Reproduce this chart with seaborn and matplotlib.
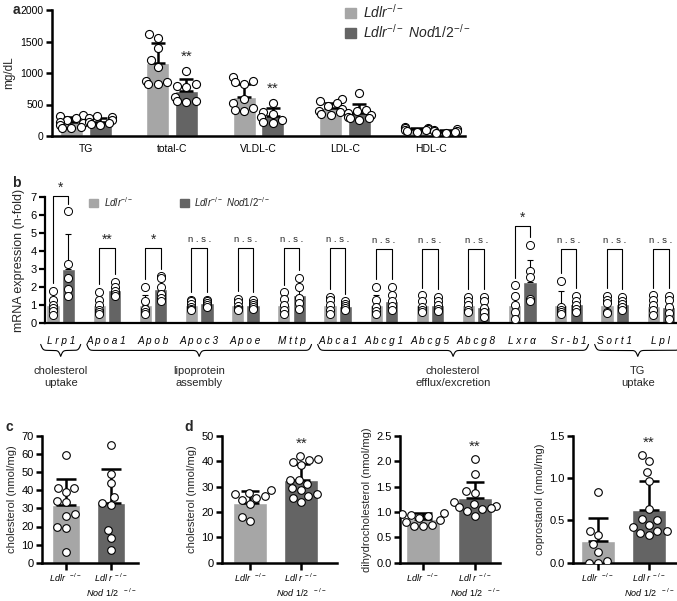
import warnings
from functools import partial

import numpy as np
import pandas as pd
import seaborn as sns
import matplotlib.pyplot as plt
import matplotlib.transforms as mtransforms
from matplotlib.patches import Patch

warnings.filterwarnings("ignore")

LIGHT = "#a6a6a6"
DARK = "#646464"

# ---------------- panel a: plasma lipids (mg/dL)
lipids = ["TG", "total-C", "VLDL-C", "LDL-C", "HDL-C"]
lipid_mean_ko = [225, 1160, 617, 442, 107]
lipid_sd_ko = [75, 320, 212, 80, 25]
lipid_mean_dko = [230, 720, 319, 362, 69]
lipid_sd_dko = [55, 190, 127, 148, 20]
lipid_pts_ko = [
    [330, 310, 280, 250, 220, 200, 170, 150, 130, 120],
    [1620, 1560, 1400, 1200, 1100, 870, 830, 820, 850],
    [930, 880, 850, 820, 580, 520, 440, 400, 420],
    [580, 550, 520, 470, 430, 400, 380, 350, 330],
    [150, 130, 120, 110, 100, 90, 80, 70],
]
lipid_pts_dko = [
    [310, 300, 280, 260, 230, 210, 190, 170],
    [1030, 830, 800, 780, 620, 560, 540, 560],
    [520, 380, 350, 300, 250, 200, 230],
    [690, 420, 390, 360, 330, 300, 280, 250, 280],
    [110, 95, 85, 75, 65, 55, 50],
]
lipid_sig = ["", "**", "**", "", ""]

# ---------------- panel b: hepatic mRNA (n-fold)
genes = ["Lrp1", "Apoa1", "Apob", "Apoc3", "Apoe", "Mttp", "Abca1",
         "Abcg1", "Abcg5", "Abcg8", "Lxrα", "Sr-b1", "Sort1", "Lpl"]
mrna_mean_ko = [1.0, 1.0, 1.0, 1.0, 1.0, 1.0, 1.0, 0.99, 1.0, 1.0, 1.0, 1.0, 1.0, 0.97]
mrna_sd_ko = [0.45, 0.55, 0.55, 0.25, 0.2, 0.45, 0.35, 0.55, 0.35, 0.3, 0.68, 0.78, 0.4, 0.5]
mrna_mean_dko = [3.02, 1.82, 1.87, 1.1, 1.0, 1.55, 0.94, 1.21, 1.0, 0.9, 2.29, 1.06, 1.06, 0.9]
mrna_sd_dko = [1.9, 0.25, 0.66, 0.2, 0.15, 0.64, 0.15, 0.45, 0.25, 0.4, 1.23, 0.4, 0.3, 0.45]
mrna_pts_ko = [
    [1.8, 1.3, 1.0, 0.85, 0.65, 0.45],
    [1.75, 1.3, 1.0, 0.75, 0.6, 0.5],
    [2.0, 1.2, 0.8, 0.6, 0.5],
    [1.3, 1.2, 1.05, 0.9, 0.8, 0.7],
    [1.35, 1.15, 0.95, 0.8, 0.7],
    [1.7, 1.35, 1.0, 0.7, 0.5],
    [1.45, 1.3, 1.0, 0.75, 0.5],
    [2.0, 1.3, 0.9, 0.65, 0.5],
    [1.55, 1.2, 0.9, 0.7, 0.6],
    [1.45, 1.25, 1.0, 0.75, 0.6],
    [2.1, 1.5, 1.0, 0.6, 0.2],
    [2.35, 0.9, 0.7, 0.6, 0.5],
    [1.5, 1.3, 1.1, 0.6, 0.55],
    [1.55, 1.3, 1.0, 0.7, 0.45],
]
mrna_pts_dko = [
    [6.2, 3.3, 2.5, 1.9, 1.5],
    [2.3, 2.0, 1.8, 1.6, 1.5],
    [2.6, 2.5, 2.0, 1.6, 1.4, 1.2],
    [1.3, 1.2, 1.1, 1.0, 0.9],
    [1.3, 1.1, 1.0, 0.9, 0.8],
    [2.5, 2.0, 1.4, 1.1, 0.8],
    [1.2, 1.05, 0.95, 0.85, 0.75],
    [2.0, 1.55, 1.2, 0.95, 0.75],
    [1.45, 1.2, 1.0, 0.8, 0.65],
    [1.45, 1.2, 0.85, 0.6, 0.35],
    [4.35, 2.9, 2.55, 1.35, 1.2],
    [1.5, 1.2, 1.0, 0.8, 0.6],
    [1.45, 1.25, 1.05, 0.9, 0.75],
    [1.5, 1.3, 0.9, 0.55, 0.25],
]
mrna_sig = ["*", "**", "*", "n.s.", "n.s.", "n.s.", "n.s.",
            "n.s.", "n.s.", "n.s.", "*", "n.s.", "n.s.", "n.s."]
bracket_top = [7.07, 4.18, 4.18, 4.18, 4.18, 4.18, 4.15,
               4.12, 4.12, 4.12, 5.41, 4.12, 4.12, 4.12]
gene_groups = ["cholesterol\nuptake", "lipoprotein\nassembly",
               "cholesterol\nefflux/excretion", "TG\nuptake"]
gene_group_sizes = [1, 5, 6, 2]

# ---------------- panel c: liver cholesterol (nmol/mg)
liver_chol_ko = [59.5, 41.5, 41, 39, 34, 33.5, 27, 26, 19.5, 19, 6]
liver_chol_dko = [65, 49, 44, 36.5, 33, 32, 18, 13.5, 7]
liver_mean = [31.7, 33.0]
liver_sd = [14.3, 18.5]

# ---------------- panel d: fecal sterols (nmol/mg)
fecal_chol_ko = [28.5, 27.5, 27, 26.2, 25.5, 24.7, 23, 18, 16.5]
fecal_chol_dko = [42, 41, 40.5, 39.8, 38.5, 32.8, 32.5, 31.2, 29.5, 28.6, 27.3, 26.3, 25.6, 24.0]
fecal_chol_mean = [23.4, 32.7]
fecal_chol_sd = [4.8, 6.3]

dihydro_ko = [0.98, 0.97, 0.95, 0.92, 0.88, 0.84, 0.8, 0.75, 0.72, 0.72]
dihydro_dko = [2.04, 1.76, 1.42, 1.38, 1.2, 1.15, 1.12, 1.1, 1.08, 1.05, 1.02, 0.93]
dihydro_mean = [0.856, 1.27]
dihydro_sd = [0.13, 0.33]

copro_ko = [0.84, 0.37, 0.33, 0.22, 0.13, 0.02, 0.0, 0.0]
copro_dko = [1.27, 1.2, 1.07, 0.97, 0.63, 0.52, 0.5, 0.45, 0.42, 0.38, 0.37, 0.35, 0.33]
copro_mean = [0.256, 0.62]
copro_sd = [0.27, 0.35]

geno_ko = r"$\mathit{Ldlr}^{\ \ -/-}$"
geno_dko = r"$\mathit{Ldl\ r}^{\ -/-}$" + "\n" + r"$\mathit{Nod\ 1/2}^{\ \ \ -/-}$"

sns.set_style("ticks")
plt.rcParams["font.family"] = ["Liberation Sans", "DejaVu Sans"]
plt.rcParams["mathtext.fontset"] = "custom"
plt.rcParams["mathtext.rm"] = "Liberation Sans"
plt.rcParams["mathtext.it"] = "Liberation Sans:italic"
plt.rcParams["axes.edgecolor"] = "black"
plt.rcParams["xtick.color"] = "black"
plt.rcParams["ytick.color"] = "black"

W, H = 677, 601
fig = plt.figure(figsize=(W / 100, H / 100), dpi=100)


def add_axes(left, right, top, bottom):
    return fig.add_axes([left / W, 1 - bottom / H, (right - left) / W, (bottom - top) / H])


def style(ax, lw, fs, xtick_len=0):
    sns.despine(ax=ax)
    ax.spines["left"].set_linewidth(lw)
    ax.spines["bottom"].set_linewidth(lw)
    ax.tick_params(axis="y", width=lw, length=4, labelsize=fs, pad=2)
    ax.tick_params(axis="x", width=lw, length=xtick_len)
    ax.set_xlabel("")


def grouped_panel(ax, cats, mean_ko, sd_ko, mean_dko, sd_dko, pts_ko, pts_dko,
                  bar_w, cap, elw, pt_size, pt_lw, swarm):
    slots = []
    for c in cats:
        slots += [c + "|ko", c + "|dko", c + "|gap"]
    slots = slots[:-1]
    bars = pd.DataFrame({
        "slot": [c + "|ko" for c in cats] + [c + "|dko" for c in cats],
        "group": ["ko"] * len(cats) + ["dko"] * len(cats),
        "mean": list(mean_ko) + list(mean_dko),
        "sd": list(sd_ko) + list(sd_dko),
    })
    pts = pd.DataFrame(
        [(c + "|ko", v) for c, vs in zip(cats, pts_ko) for v in vs]
        + [(c + "|dko", v) for c, vs in zip(cats, pts_dko) for v in vs],
        columns=["slot", "value"])
    sns.barplot(data=bars, x="slot", y="mean", hue="group", order=slots,
                hue_order=["ko", "dko"], palette=[LIGHT, DARK], saturation=1,
                dodge=False, width=bar_w, errorbar=None, legend=False, ax=ax, zorder=1)
    pos = [slots.index(s) for s in bars["slot"]]
    ax.errorbar(pos, bars["mean"], yerr=[np.zeros(len(bars)), bars["sd"]], fmt="none",
                ecolor="black", elinewidth=elw, capsize=cap, capthick=elw, zorder=3)
    plotter = sns.swarmplot if swarm else partial(sns.stripplot, jitter=False)
    plotter(data=pts, x="slot", y="value", order=slots, color="white",
            edgecolor="black", linewidth=pt_lw, size=pt_size, ax=ax, zorder=4)
    ax.set_xticks([slots.index(c + "|ko") + 0.5 for c in cats])
    return slots


# ================= panel a
ax_a = add_axes(52, 465, 10, 136)
slots_a = grouped_panel(ax_a, lipids, lipid_mean_ko, lipid_sd_ko, lipid_mean_dko,
                        lipid_sd_dko, lipid_pts_ko, lipid_pts_dko,
                        bar_w=0.8, cap=5, elw=1.8, pt_size=5.8, pt_lw=0.8, swarm=True)
ax_a.set_xticklabels(lipids, fontsize=7.5)
ax_a.set_xlim(-0.67, len(slots_a) - 0.33)
ax_a.set_ylim(0, 2000)
ax_a.set_yticks([0, 500, 1000, 1500, 2000])
ax_a.set_ylabel("mg/dL", fontsize=8.5, labelpad=4)
style(ax_a, 1.8, 7.5)
ax_a.tick_params(axis="x", pad=6)
for i, lip in enumerate(lipids):
    if lipid_sig[i]:
        ax_a.text(slots_a.index(lip + "|dko"), max(lipid_pts_dko[i]) + 230, lipid_sig[i],
                  ha="center", va="center", fontsize=11)
fig.legend(handles=[Patch(color=LIGHT, label=r"$\mathit{Ldlr}^{-/-}$"),
                    Patch(color=DARK, label=r"$\mathit{Ldlr}^{-/-}\ \mathit{Nod1/2}^{-/-}$")],
           loc="upper left", bbox_to_anchor=(345 / W, 1 - 3 / H), frameon=False,
           fontsize=10, handlelength=0.8, handleheight=0.8, handletextpad=0.5,
           labelspacing=0.15, borderpad=0, borderaxespad=0)

# ================= panel b
ax_b = add_axes(45, 677, 197, 323)
slots_b = grouped_panel(ax_b, genes, mrna_mean_ko, mrna_sd_ko, mrna_mean_dko, mrna_sd_dko,
                        mrna_pts_ko, mrna_pts_dko,
                        bar_w=0.86, cap=2.2, elw=0.8, pt_size=5.8, pt_lw=0.7, swarm=False)
ax_b.set_xticklabels([" ".join(g) for g in genes], fontsize=7.2, fontstyle="italic")
ax_b.set_xlim(-0.52, len(slots_b) - 0.45)
ax_b.set_ylim(0, 7)
ax_b.set_yticks(range(8))
ax_b.set_ylabel("mRNA expression (n-fold)", fontsize=9, labelpad=4)
style(ax_b, 1.6, 8)
ax_b.tick_params(axis="x", pad=9)
for i, g in enumerate(genes):
    x0 = slots_b.index(g + "|ko")
    x1 = x0 + 1
    top = bracket_top[i]
    ax_b.plot([x0, x0, x1, x1],
              [max(mrna_pts_ko[i]) + 0.42, top, top, max(mrna_pts_dko[i]) + 0.42],
              color="black", lw=0.8, clip_on=False, zorder=5)
    txt = mrna_sig[i]
    if txt == "n.s.":
        ax_b.text((x0 + x1) / 2, top + 0.22, "n . s .", ha="center", va="bottom", fontsize=6.8)
    else:
        ax_b.text((x0 + x1) / 2, top + 0.05, txt, ha="center", va="bottom", fontsize=10)

# curly braces + group labels below the gene names
trans_b = mtransforms.blended_transform_factory(ax_b.transData, ax_b.transAxes)
start = 0
for name, n in zip(gene_groups, gene_group_sizes):
    xa = slots_b.index(genes[start] + "|ko") + 0.5
    xb = slots_b.index(genes[start + n - 1] + "|ko") + 0.5
    x0, x1 = xa - 1.3, xb + 1.3
    half = np.linspace(0, (x1 - x0) / 2, 120)
    beta = 14.0
    yh = 1 / (1 + np.exp(-beta * half)) + 1 / (1 + np.exp(-beta * (half - half[-1])))
    xs = np.concatenate([x0 + half, x1 - half[::-1]])
    ys = np.concatenate([yh, yh[::-1]])
    ys = -0.17 - (ys - 0.5) * 0.095
    ax_b.plot(xs, ys, color="black", lw=0.8, transform=trans_b, clip_on=False)
    ax_b.text((xa + xb) / 2, -0.34, name, ha="center", va="top", fontsize=8,
              linespacing=1.25, transform=trans_b)
    start += n

fig.legend(handles=[Patch(color=LIGHT, label=r"$\mathit{Ldlr}^{-/-}$"),
                    Patch(color=DARK, label=r"$\mathit{Ldlr}^{-/-}\ \mathit{Nod1/2}^{-/-}$")],
           loc="upper left", bbox_to_anchor=(89 / W, 1 - 195 / H), ncol=2, frameon=False,
           fontsize=7, handlelength=0.9, handleheight=0.9, handletextpad=0.6,
           columnspacing=4.8, borderpad=0, borderaxespad=0)


# ================= panels c and d
def two_bar_panel(ax, ko, dko, mean, sd, ylim, yticks, ylabel, sig, xlim, bar_w, cap):
    bars = pd.DataFrame({"group": ["ko", "dko"], "mean": mean, "sd": sd})
    pts = pd.DataFrame({"group": ["ko"] * len(ko) + ["dko"] * len(dko),
                        "value": list(ko) + list(dko)})
    sns.barplot(data=bars, x="group", y="mean", hue="group", order=["ko", "dko"],
                palette=[LIGHT, DARK], saturation=1, width=bar_w, errorbar=None,
                legend=False, ax=ax, zorder=1)
    ax.errorbar([0, 1], mean, yerr=[[0, 0], sd], fmt="none", ecolor="black",
                elinewidth=1.8, capsize=cap, capthick=1.8, zorder=3)
    sns.swarmplot(data=pts, x="group", y="value", order=["ko", "dko"], color="white",
                  edgecolor="black", linewidth=0.8, size=5.5, ax=ax, zorder=4)
    ax.set_ylim(*ylim)
    ax.set_yticks(yticks)
    ax.set_xlim(*xlim)
    ax.set_ylabel(ylabel, fontsize=8, labelpad=3)
    ax.set_xticks([0, 1])
    ax.set_xticklabels([geno_ko, geno_dko], fontsize=6.5, linespacing=1.25, va="top")
    style(ax, 1.8, 8, xtick_len=5)
    ax.tick_params(axis="x", pad=1.5)
    if sig:
        ax.text(1, max(dko) + (ylim[1] - ylim[0]) * 0.1, sig, ha="center", va="center",
                fontsize=11)


ax_c = add_axes(42, 138, 436, 562.7)
two_bar_panel(ax_c, liver_chol_ko, liver_chol_dko, liver_mean, liver_sd, (0, 70),
              range(0, 71, 10), "cholesterol (nmol/mg)", "", (-0.53, 1.6), 0.62, 7.5)

ax_d1 = add_axes(222, 337, 436, 562.7)
two_bar_panel(ax_d1, fecal_chol_ko, fecal_chol_dko, fecal_chol_mean, fecal_chol_sd, (0, 50),
              range(0, 51, 10), "cholesterol (nmol/mg)", "**", (-0.55, 1.7), 0.67, 6.5)

ax_d2 = add_axes(400, 500, 436, 562.7)
two_bar_panel(ax_d2, dihydro_ko, dihydro_dko, dihydro_mean, dihydro_sd, (0, 2.5),
              [0.0, 0.5, 1.0, 1.5, 2.0, 2.5], "dihydrocholesterol (nmol/mg)", "**",
              (-0.44, 1.48), 0.65, 6.5)
ax_d2.set_yticklabels(["0.0", "0.5", "1.0", "1.5", "2.0", "2.5"])

ax_d3 = add_axes(573, 677, 436, 562.7)
two_bar_panel(ax_d3, copro_ko, copro_dko, copro_mean, copro_sd, (0, 1.5),
              [0.0, 0.5, 1.0, 1.5], "coprostanol (nmol/mg)", "**", (-0.49, 1.55), 0.67, 7)
ax_d3.set_yticklabels(["0.0", "0.5", "1.0", "1.5"])

for letter, (px, py) in {"a": (16, 10), "b": (16, 183), "c": (9, 427), "d": (189, 427)}.items():
    fig.text(px / W, 1 - py / H, letter, fontsize=10, fontweight="bold", ha="center", va="center")

fig.savefig("out.png", dpi=100, facecolor="white")
